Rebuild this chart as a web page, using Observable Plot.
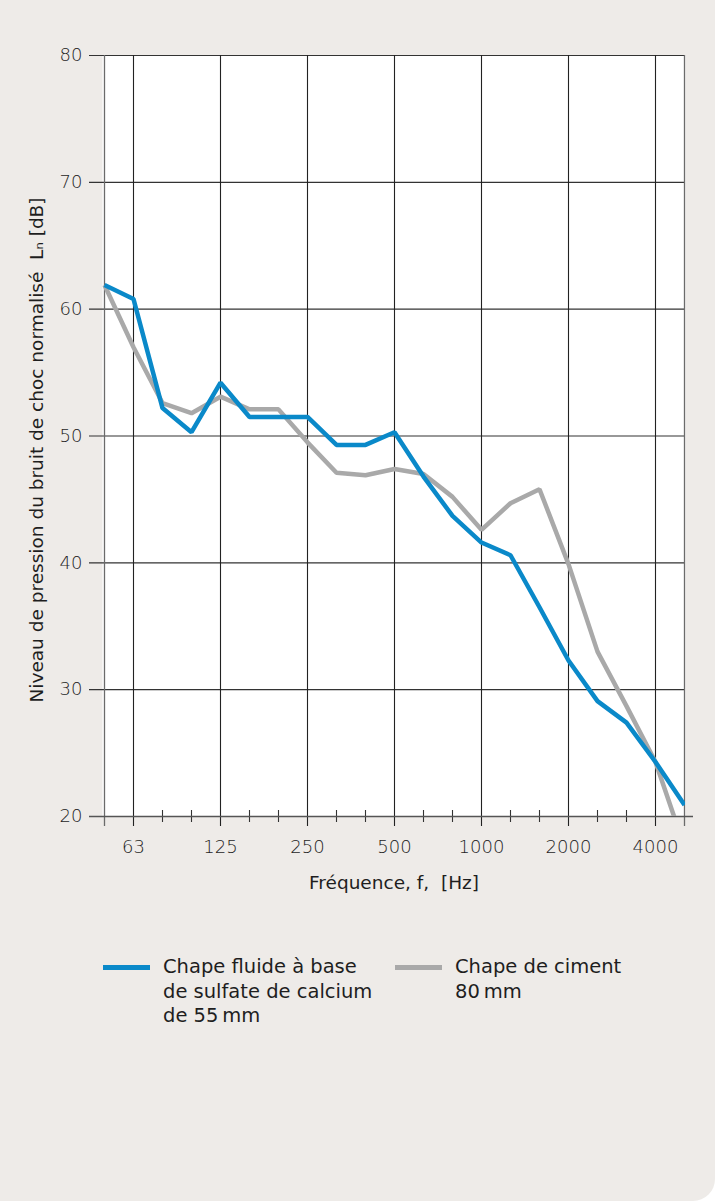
<!DOCTYPE html>
<html>
<head>
<meta charset="utf-8">
<script src="https://cdn.jsdelivr.net/npm/d3@7"></script>
<script src="https://cdn.jsdelivr.net/npm/@observablehq/plot@0.6"></script>
<style>
  html, body { margin: 0; padding: 0; background: #ffffff; }
  #card {
    position: relative; width: 715px; height: 1201px; background: #eeebe8;
    border-bottom-right-radius: 22px; overflow: hidden;
    font-family: "DejaVu Sans", sans-serif; color: #1e1e1e;
  }
  #chart { position: absolute; left: 0; top: 0; }
  .legend { position: absolute; top: 955px; font-size: 19.5px; line-height: 24.5px; }
  .legend .sw { position: absolute; left: 0; top: 10px; width: 47px; height: 5px; }
  .legend .txt { position: absolute; left: 60px; top: 0; white-space: nowrap; }
</style>
</head>
<body>
<div id="card">
  <div id="chart"></div>
  <div class="legend" style="left:103px"><div class="sw" style="background:#0a89c9"></div><div class="txt">Chape fluide à base<br>de sulfate de calcium<br>de 55&#8239;mm</div></div>
  <div class="legend" style="left:395px"><div class="sw" style="background:#a9a9a9"></div><div class="txt">Chape de ciment<br>80&#8239;mm</div></div>
</div>
<script>
// 1/3-octave band centre frequencies (Hz)
const freqs = [50,63,80,100,125,160,200,250,315,400,500,630,800,1000,1250,1600,2000,2500,3150,4000,5000];
// Chape fluide à base de sulfate de calcium de 55 mm
const fluide = [61.9,60.8,52.2,50.3,54.2,51.5,51.5,51.5,49.3,49.3,50.3,46.8,43.7,41.6,40.6,36.5,32.3,29.1,27.4,24.3,20.9];
// Chape de ciment 80 mm
const ciment = [61.9,57.0,52.6,51.8,53.1,52.1,52.1,49.5,47.1,46.9,47.4,47.0,45.2,42.6,44.7,45.8,39.9,33.0,28.7,24.3,17.6];
const labeledFreqs = [63,125,250,500,1000,2000,4000];
const edgeFreqs = [50,5000];
const minorFreqs = freqs.filter(f => !labeledFreqs.includes(f) && !edgeFreqs.includes(f));
const yTicks = [20,30,40,50,60,70,80];
const xTitle = "Fréquence, f,  [Hz]";
const yTitle = "Niveau de pression du bruit de choc normalisé  Lₙ [dB]";

const seriesFluide = freqs.map((f, i) => ({f, v: fluide[i]}));
const seriesCiment = freqs.map((f, i) => ({f, v: ciment[i]}));

const font = "'DejaVu Sans', sans-serif";
const chart = Plot.plot({
  width: 715,
  height: 910,
  marginTop: 55,
  marginLeft: 102,
  marginRight: 30,
  marginBottom: 94,
  style: {background: "transparent", fontFamily: font, color: "#1e1e1e"},
  x: {type: "point", domain: freqs, padding: 0, axis: null},
  y: {domain: [20, 80], axis: null},
  marks: [
    Plot.frame({fill: "white", stroke: null}),
    Plot.ruleY(yTicks, {stroke: "#333", strokeWidth: 1.1, insetLeft: -13}),
    Plot.ruleX(labeledFreqs, {stroke: "#222", strokeWidth: 1.1, insetBottom: -10}),
    Plot.ruleX(edgeFreqs, {stroke: "#6b6b6b", strokeWidth: 1.3, insetBottom: -10}),
    Plot.ruleX(minorFreqs, {y1: 20, y2: 20, insetTop: -6, insetBottom: -6, stroke: "#333", strokeWidth: 1.1}),
    Plot.ruleY([20], {stroke: "#555", strokeWidth: 1.3, insetLeft: -13, insetRight: -8}),
    Plot.line(seriesCiment, {x: "f", y: "v", stroke: "#a9a9a9", strokeWidth: 4.5, strokeLinejoin: "miter", strokeLinecap: "butt", clip: true}),
    Plot.line(seriesFluide, {x: "f", y: "v", stroke: "#0a89c9", strokeWidth: 4.5, strokeLinejoin: "miter", strokeLinecap: "butt", clip: true}),
    Plot.axisY(yTicks, {tickSize: 0, tickPadding: 20, fontSize: 18, fontWeight: 200, fill: "#1e1e1e", label: null}),
    Plot.axisX(labeledFreqs, {tickSize: 0, tickPadding: 24, fontSize: 18, fontWeight: 200, fill: "#1e1e1e", tickFormat: d => String(d), label: null}),
    Plot.text([xTitle], {frameAnchor: "bottom", dy: 72, fontSize: 18.5, fill: "#1e1e1e"}),
    Plot.text([yTitle], {frameAnchor: "left", textAnchor: "middle", rotate: -90, dx: -65, dy: 14, fontSize: 18.5, fill: "#1e1e1e"})
  ]
});
document.getElementById("chart").appendChild(chart);
</script>
</body>
</html>
